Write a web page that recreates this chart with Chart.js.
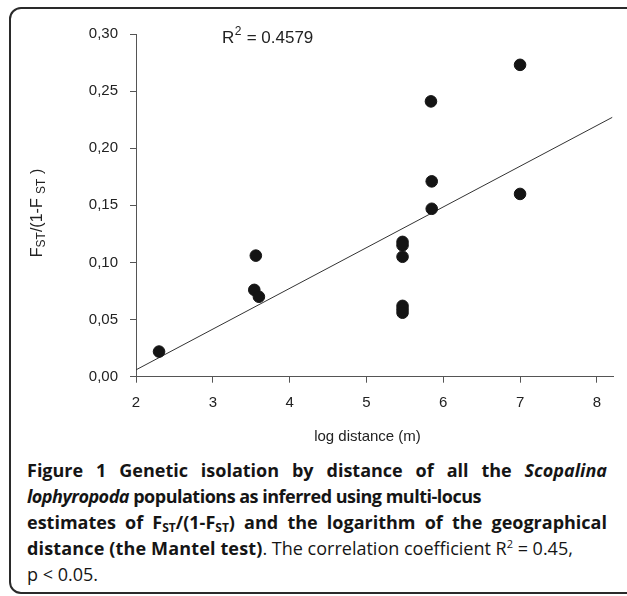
<!DOCTYPE html>
<html>
<head>
<meta charset="utf-8">
<script src="https://cdn.jsdelivr.net/npm/chart.js@4.4.0/dist/chart.umd.min.js"></script>
<style>
  html, body { margin: 0; padding: 0; background: #fff; }
  body { width: 627px; height: 596px; position: relative; overflow: hidden; }
  #frame { position: absolute; left: 9px; top: 7px; width: 640px; height: 583px;
           border: 2px solid #2a2a2a; border-radius: 12px; }
  #myChart { position: absolute; left: 0; top: 0; }
  #caption { position: absolute; left: 27px; top: 457px; width: 580px;
             font-family: 'Open Sans', 'Noto Sans', sans-serif; font-size: 18px;
             line-height: 26px; color: #151515; }
  #caption .j { text-align: justify; text-align-last: justify; }
  #caption .tight { letter-spacing: -0.5px; }
  #caption b { font-weight: 700; }
  #caption .lt { letter-spacing: 0.15px; }
  #caption sub { font-size: 12px; line-height: 0; vertical-align: -3px; }
  #caption sup { font-size: 11px; line-height: 0; vertical-align: 7px; }
</style>
</head>
<body>
<div id="frame"></div>
<canvas id="myChart" width="627" height="455"></canvas>
<div id="caption">
  <div class="j"><b>Figure 1 Genetic isolation by distance of all the <i>Scopalina</i></b></div>
  <div class="tight"><b><i>lophyropoda</i> populations as inferred using multi-locus</b></div>
  <div class="j"><b>estimates of F<sub>ST</sub>/(1-F<sub>ST</sub>) and the logarithm of the geographical</b></div>
  <div><b class="lt">distance (the Mantel test)</b>. The correlation coefficient R<sup>2</sup> = 0.45,</div>
  <div>p &lt; 0.05.</div>
</div>
<script>
// points
let logDistance = [2.30, 3.54, 3.56, 3.60, 5.47, 5.47, 5.47, 5.47, 5.47, 5.47, 5.84, 5.85, 5.85, 7.00, 7.00];
let fst = [0.022, 0.076, 0.106, 0.070, 0.118, 0.115, 0.105, 0.062, 0.059, 0.056, 0.241, 0.171, 0.147, 0.273, 0.160];

// ends of the fitted line
let fitX = [2.0, 8.2];
let fitY = [0.006, 0.227];

let xTicks = [2, 3, 4, 5, 6, 7, 8];
let yTicks = [0, 0.05, 0.10, 0.15, 0.20, 0.25, 0.30];

const axisFont = "'Liberation Sans', Arial, sans-serif";

// axis titles and R2 note drawn on the canvas so the subscripts work
const labels = {
  id: 'labels',
  afterDraw(chart) {
    const c = chart.ctx;
    c.save();
    c.fillStyle = '#222';
    c.textBaseline = 'middle';

    // x title
    c.font = '15px ' + axisFont;
    c.textAlign = 'center';
    c.fillText('log distance (m)', 367.5, 437);

    // y title with subscripts
    let parts = [['F', 0], ['ST', 1], ['/(1-F', 0], [' ', 0], ['ST', 1], [' )', 0]];
    c.translate(38, 213);
    c.rotate(-Math.PI / 2);
    c.textAlign = 'left';
    let total = 0;
    parts.forEach(p => {
      c.font = (p[1] ? '12px ' : '16px ') + axisFont;
      total += c.measureText(p[0]).width;
    });
    let x = -total / 2;
    parts.forEach(p => {
      c.font = (p[1] ? '12px ' : '16px ') + axisFont;
      c.fillText(p[0], x, p[1] ? 4 : 0);
      x += c.measureText(p[0]).width;
    });
    c.restore();

    // R2 note
    c.save();
    c.fillStyle = '#222';
    c.textBaseline = 'alphabetic';
    c.textAlign = 'left';
    c.font = '17px ' + axisFont;
    c.fillText('R', 222, 43);
    let w = c.measureText('R').width;
    c.font = '12px ' + axisFont;
    c.fillText('2', 222 + w + 0.5, 35);
    let w2 = c.measureText('2').width;
    c.font = '17px ' + axisFont;
    c.fillText(' = 0.4579', 222 + w + w2 + 1, 43);
    c.restore();
  }
};

const ctx = document.getElementById('myChart');

new Chart(ctx, {
  type: 'scatter',
  data: {
    datasets: [{
      data: logDistance.map((v, i) => ({ x: v, y: fst[i] })),
      backgroundColor: '#141414',
      borderColor: '#141414',
      pointRadius: 5.8,
      pointHoverRadius: 5.8
    }, {
      type: 'line',
      data: fitX.map((v, i) => ({ x: v, y: fitY[i] })),
      borderColor: '#333',
      borderWidth: 1,
      pointRadius: 0,
      fill: false
    }]
  },
  plugins: [labels],
  options: {
    responsive: false,
    animation: false,
    layout: { padding: { left: 0, top: 34, right: 14, bottom: 0 } },
    plugins: { legend: { display: false }, tooltip: { enabled: false } },
    scales: {
      x: {
        type: 'linear',
        min: 2,
        max: 8.21,
        afterBuildTicks: s => { s.ticks = xTicks.map(v => ({ value: v })); },
        afterFit: s => { s.height = 455 - 376.7; },
        grid: { drawOnChartArea: false, drawTicks: true, tickLength: 6, color: '#555' },
        border: { display: true, color: '#555', width: 1 },
        ticks: { color: '#222', font: { family: axisFont, size: 15 }, padding: 11 }
      },
      y: {
        min: 0,
        max: 0.30,
        afterBuildTicks: s => { s.ticks = yTicks.map(v => ({ value: v })); },
        afterFit: s => { s.width = 136; },
        grid: { drawOnChartArea: false, drawTicks: true, tickLength: 6, color: '#555' },
        border: { display: true, color: '#555', width: 1 },
        ticks: {
          color: '#222',
          font: { family: axisFont, size: 15 },
          padding: 12,
          callback: v => v.toFixed(2).replace('.', ',')
        }
      }
    }
  }
});
</script>
</body>
</html>
